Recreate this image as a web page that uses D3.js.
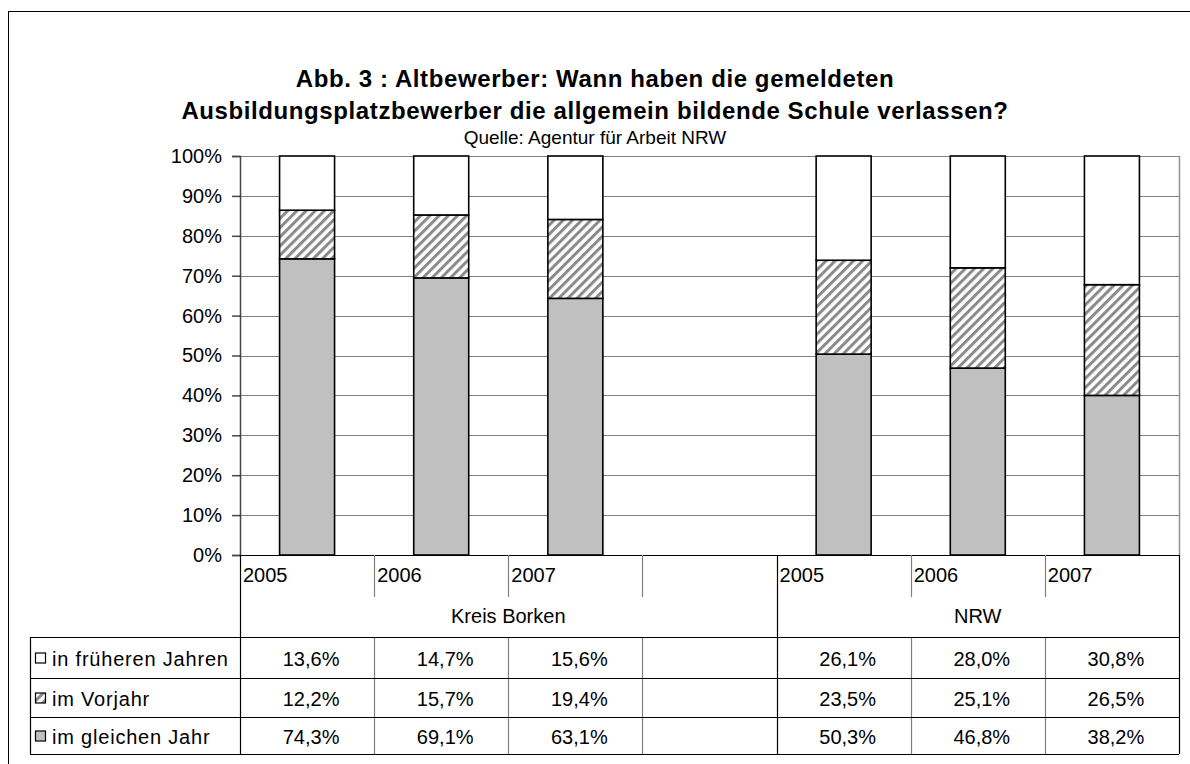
<!DOCTYPE html>
<html>
<head>
<meta charset="utf-8">
<script src="https://cdn.jsdelivr.net/npm/d3@7"></script>
<style>
  body { margin: 0; background: #fff; }
  svg { font-family: "Liberation Sans", Arial, sans-serif; }
</style>
</head>
<body>
<svg id="chart" width="1190" height="764"></svg>
<script>
/*
 * Abb. 3 : Altbewerber - 100% stacked columns with data table
 */

// categories (empty slot separates the two groups)
const categories = ['2005', '2006', '2007', '', '2005', '2006', '2007'];
const groups = [
  { name: 'Kreis Borken', from: 0, to: 4 },
  { name: 'NRW', from: 4, to: 7 }
];

// series values in percent, null = empty slot
const gleichesJahr = [74.3, 69.1, 63.1, null, 50.3, 46.8, 38.2];
const vorjahr = [12.2, 15.7, 19.4, null, 23.5, 25.1, 26.5];
const frueheren = [13.6, 14.7, 15.6, null, 26.1, 28.0, 30.8];

const seriesNames = ['im gleichen Jahr', 'im Vorjahr', 'in früheren Jahren'];
const yTicks = [0, 0.1, 0.2, 0.3, 0.4, 0.5, 0.6, 0.7, 0.8, 0.9, 1];

const titleLines = [
  'Abb. 3 : Altbewerber: Wann haben die gemeldeten',
  'Ausbildungsplatzbewerber die allgemein bildende Schule verlassen?'
];
const subtitle = 'Quelle: Agentur für Arbeit NRW';

(function (d3) {
  var svg = d3.select('#chart');
  var plot = { left: 240, right: 1179, top: 156, bottom: 555 };
  var table = { left: 30, catBottom: 597, groupBottom: 637, rows: [637, 678, 717, 754] };

  var de = d3.formatLocale({ decimal: ',', thousands: '.', grouping: [3], currency: ['', ' €'] });
  var fmtVal = de.format('.1f');
  var fmtPct = d3.format('.0%');

  // outer frame (runs off the right and bottom edge)
  svg.append('rect')
    .attr('x', 8.5).attr('y', 11.5)
    .attr('width', 1200).attr('height', 800)
    .attr('fill', 'none').attr('stroke', '#000').attr('stroke-width', 1);

  // title
  svg.selectAll('text.title')
    .data(titleLines)
    .enter().append('text')
    .attr('class', 'title')
    .attr('x', 595)
    .attr('y', function(d, i) { return 87 + i * 32; })
    .attr('text-anchor', 'middle')
    .attr('font-size', 24)
    .attr('letter-spacing', 0.6)
    .attr('font-weight', 'bold')
    .text(function(d) { return d; });

  svg.append('text')
    .attr('x', 595).attr('y', 144)
    .attr('text-anchor', 'middle')
    .attr('font-size', 19)
    .text(subtitle);

  // hatch pattern for "im Vorjahr"
  var defs = svg.append('defs');
  defs.append('pattern')
    .attr('id', 'hatch')
    .attr('patternUnits', 'userSpaceOnUse')
    .attr('width', 6.5).attr('height', 6.5)
    .attr('patternTransform', 'rotate(45)')
  .call(function(p) {
    p.append('rect').attr('width', 6.5).attr('height', 6.5).attr('fill', '#fff');
    p.append('rect').attr('x', 0).attr('width', 3).attr('height', 6.5).attr('fill', '#8a8a8a');
  });

  var fills = ['#c0c0c0', 'url(#hatch)', '#fff'];

  var rows = categories.map(function(c, i) {
    return {
      i: i,
      'im gleichen Jahr': gleichesJahr[i] || 0,
      'im Vorjahr': vorjahr[i] || 0,
      'in früheren Jahren': frueheren[i] || 0,
      empty: gleichesJahr[i] == null
    };
  });

  var stack = d3.stack()
    .keys(seriesNames)
    .offset(d3.stackOffsetExpand);
  var stacked = stack(rows);

  var x = d3.scaleBand()
    .domain(d3.range(categories.length))
    .range([plot.left, plot.right])
    .paddingInner(0.59)
    .paddingOuter(0.295);
  var step = x.step();
  var colX = function(i) { return plot.left + i * step; };

  var y = d3.scaleLinear()
    .domain([0, 1])
    .range([plot.bottom, plot.top]);

  // gridlines + plot frame
  svg.append('g')
    .selectAll('line')
    .data(yTicks.slice(1))
    .enter().append('line')
    .attr('x1', plot.left).attr('x2', plot.right)
    .attr('y1', function(d) { return Math.round(y(d)) + 0.5; })
    .attr('y2', function(d) { return Math.round(y(d)) + 0.5; })
    .attr('stroke', '#808080').attr('stroke-width', 1.2);

  svg.append('line')
    .attr('x1', plot.right + 0.5).attr('x2', plot.right + 0.5)
    .attr('y1', plot.top).attr('y2', plot.bottom)
    .attr('stroke', '#909090').attr('stroke-width', 1.5);

  // bars
  svg.append('g')
    .selectAll('g')
    .data(stacked)
    .enter().append('g')
    .attr('fill', function(d, i) { return fills[i]; })
    .selectAll('rect')
    .data(function(d) { return d.filter(function(p) { return !p.data.empty; }); })
    .enter().append('rect')
    .attr('x', function(d) { return x(d.data.i); })
    .attr('width', x.bandwidth())
    .attr('y', function(d) { return y(d[1]); })
    .attr('height', function(d) { return y(d[0]) - y(d[1]); })
    .attr('stroke', '#000')
    .attr('stroke-width', 1.6);

  // y axis
  var yAxis = svg.append('g')
    .attr('transform', 'translate(' + plot.left + ',0)')
    .call(d3.axisLeft(y).tickValues(yTicks).tickFormat(fmtPct).tickSize(8).tickPadding(10));
  yAxis.select('.domain').attr('stroke', '#444').attr('stroke-width', 1.5);
  yAxis.selectAll('.tick line').attr('stroke', '#444').attr('stroke-width', 1.5);
  yAxis.selectAll('.tick text')
    .attr('font-size', 20)
    .attr('font-family', '"Liberation Sans", Arial, sans-serif')
    .attr('fill', '#000');

  // x axis baseline
  svg.append('line')
    .attr('x1', plot.left).attr('x2', plot.right)
    .attr('y1', plot.bottom + 0.5).attr('y2', plot.bottom + 0.5)
    .attr('stroke', '#000').attr('stroke-width', 1.2);

  /*
   * Data table below the plot
   */
  var lines = svg.append('g').attr('fill', 'none');
  function hline(x1, x2, yy, col) {
    lines.append('line').attr('x1', x1).attr('x2', x2).attr('y1', yy + 0.5).attr('y2', yy + 0.5)
      .attr('stroke', col || '#000').attr('stroke-width', 1.2);
  }
  function vline(xx, y1, y2, col) {
    lines.append('line').attr('x1', xx + 0.5).attr('x2', xx + 0.5).attr('y1', y1).attr('y2', y2)
      .attr('stroke', col || '#000').attr('stroke-width', 1.2);
  }

  var groupEdges = groups.map(function(g) { return g.from; }).concat([categories.length]);
  d3.range(categories.length + 1).forEach(function(i) {
    var xx = Math.round(colX(i));
    if (i === categories.length) xx = plot.right;
    if (groupEdges.indexOf(i) >= 0) {
      vline(xx, plot.bottom, table.rows[3], '#000');
    } else {
      vline(xx, plot.bottom, table.catBottom, '#808080');
      vline(xx, table.groupBottom, table.rows[3], '#808080');
    }
  });
  vline(table.left, table.rows[0], table.rows[3]);
  table.rows.forEach(function(r) { hline(table.left, plot.right, r); });

  // category labels
  svg.append('g')
    .selectAll('text')
    .data(categories)
    .enter().append('text')
    .attr('x', function(d, i) { return colX(i) + 3; })
    .attr('y', 582)
    .attr('font-size', 20)
    .text(function(d) { return d; });

  // group labels
  svg.append('g')
    .selectAll('text')
    .data(groups)
    .enter().append('text')
    .attr('x', function(d) { return (colX(d.from) + Math.min(colX(d.to), plot.right)) / 2; })
    .attr('y', 623)
    .attr('text-anchor', 'middle')
    .attr('font-size', 20)
    .text(function(d) { return d.name; });

  // table rows, top row = last series
  var tableRows = [
    { name: 'in früheren Jahren', values: frueheren, fill: fills[2] },
    { name: 'im Vorjahr', values: vorjahr, fill: fills[1] },
    { name: 'im gleichen Jahr', values: gleichesJahr, fill: fills[0] }
  ];

  var tr = svg.append('g')
    .selectAll('g')
    .data(tableRows)
    .enter().append('g')
    .attr('transform', function(d, i) {
      return 'translate(0,' + (table.rows[i] + table.rows[i + 1]) / 2 + ')';
    });

  tr.append('rect')
    .attr('x', 35.5).attr('y', -4.5)
    .attr('width', 10).attr('height', 10)
    .attr('fill', function(d) { return d.fill; })
    .attr('stroke', '#000').attr('stroke-width', 1.2);

  tr.append('text')
    .attr('x', 52).attr('y', 8)
    .attr('font-size', 20)
    .attr('letter-spacing', 0.8)
    .text(function(d) { return d.name; });

  tr.selectAll('text.val')
    .data(function(d) { return d.values; })
    .enter().append('text')
    .attr('class', 'val')
    .attr('x', function(d, i) { return colX(i) + step / 2 + 4; })
    .attr('y', 8)
    .attr('text-anchor', 'middle')
    .attr('font-size', 20)
    .text(function(d) { return d == null ? '' : fmtVal(d) + '%'; });

})(d3);
</script>
</body>
</html>
